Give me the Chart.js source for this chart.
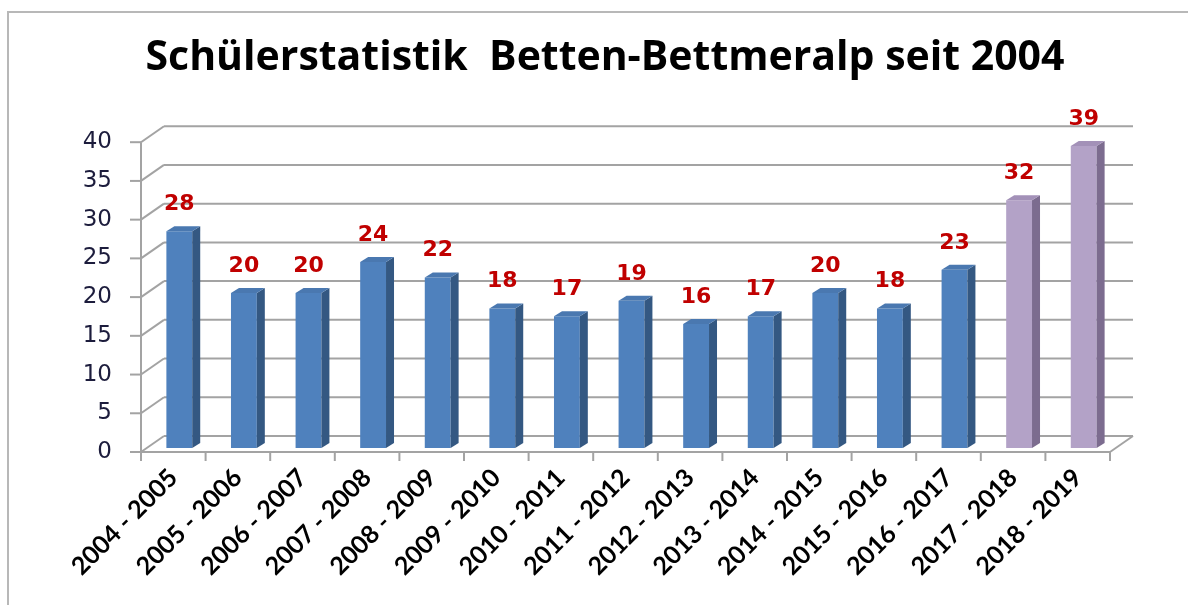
<!DOCTYPE html>
<html>
<head>
<meta charset="utf-8">
<script src="https://cdn.jsdelivr.net/npm/chart.js@4.4.1/dist/chart.umd.min.js"></script>
<style>
  html, body { margin: 0; padding: 0; background: #fff; }
  canvas { display: block; }
</style>
</head>
<body>
<canvas id="pupilChart" width="1188" height="605"></canvas>
<script>
const title = 'Schülerstatistik  Betten-Bettmeralp seit 2004';
const schoolYears = ['2004 - 2005', '2005 - 2006', '2006 - 2007', '2007 - 2008', '2008 - 2009',
    '2009 - 2010', '2010 - 2011', '2011 - 2012', '2012 - 2013', '2013 - 2014',
    '2014 - 2015', '2015 - 2016', '2016 - 2017', '2017 - 2018', '2018 - 2019'];
const pupils = [28, 20, 20, 24, 22, 18, 17, 19, 16, 17, 20, 18, 23, 32, 39];
// last two years are drawn in the lighter purple
const forecast = [false, false, false, false, false, false, false, false, false, false,
    false, false, false, true, true];
const yMin = 0;
const yMax = 40;
const yStep = 5;

// colours: front, top, side
const blue = ['#4f81bd', '#4a78b0', '#345882'];
const purple = ['#b3a2c7', '#a391b8', '#7c6c8f'];

const WALL_DX = 23, WALL_DY = -16;   // back wall offset
const BAR_DX = 6, BAR_DY = -4;       // bars sit a bit behind the front plane
const DEPTH_DX = 8, DEPTH_DY = -5;   // bar depth
const GRID = '#a3a3a3';

function line(ctx, x1, y1, x2, y2) {
    ctx.beginPath();
    ctx.moveTo(x1, y1);
    ctx.lineTo(x2, y2);
    ctx.stroke();
}

const scene3d = {
    id: 'scene3d',
    beforeDraw(chart) {
        const ctx = chart.ctx;
        ctx.save();
        ctx.strokeStyle = '#b8b8b8';
        ctx.lineWidth = 2;
        ctx.strokeRect(8, 12, chart.width + 20, chart.height + 20);
        ctx.restore();
    },
    beforeDatasetsDraw(chart) {
        const { ctx, chartArea: a, scales: { x, y } } = chart;
        ctx.save();
        ctx.strokeStyle = GRID;
        ctx.lineWidth = 2;
        // back wall gridlines + left wall diagonals + y tick marks
        y.ticks.forEach(t => {
            const py = y.getPixelForValue(t.value);
            line(ctx, a.left + WALL_DX, py + WALL_DY, a.right + WALL_DX, py + WALL_DY);
            line(ctx, a.left, py, a.left + WALL_DX, py + WALL_DY);
            line(ctx, a.left - 11, py, a.left, py);
        });
        // front axis line
        line(ctx, a.left, a.top, a.left, a.bottom);
        // floor front edge and right edge
        line(ctx, a.left, a.bottom, a.right, a.bottom);
        line(ctx, a.right, a.bottom, a.right + WALL_DX, a.bottom + WALL_DY);
        // category tick marks
        const n = schoolYears.length;
        for (let i = 0; i <= n; i++) {
            const px = a.left + i * (a.right - a.left) / n;
            line(ctx, px, a.bottom, px, a.bottom + 9);
        }
        ctx.restore();

        ctx.save();
        ctx.translate(BAR_DX, BAR_DY);
    },
    afterDatasetsDraw(chart) {
        const ctx = chart.ctx;
        const meta = chart.getDatasetMeta(0);
        meta.data.forEach((bar, i) => {
            const { x, y: top, base, width } = bar.getProps(['x', 'y', 'base', 'width'], true);
            const c = forecast[i] ? purple : blue;
            const l = x - width / 2, r = x + width / 2;
            // side face
            ctx.fillStyle = c[2];
            ctx.beginPath();
            ctx.moveTo(r, top);
            ctx.lineTo(r + DEPTH_DX, top + DEPTH_DY);
            ctx.lineTo(r + DEPTH_DX, base + DEPTH_DY);
            ctx.lineTo(r, base);
            ctx.closePath();
            ctx.fill();
            // top face
            ctx.fillStyle = c[1];
            ctx.beginPath();
            ctx.moveTo(l, top);
            ctx.lineTo(l + DEPTH_DX, top + DEPTH_DY);
            ctx.lineTo(r + DEPTH_DX, top + DEPTH_DY);
            ctx.lineTo(r, top);
            ctx.closePath();
            ctx.fill();
            // value label
            ctx.fillStyle = '#c00000';
            ctx.font = 'bold 22px "DejaVu Sans"';
            ctx.textAlign = 'center';
            ctx.textBaseline = 'middle';
            ctx.fillText(String(pupils[i]), x, top - 27);
        });
        ctx.restore();
    }
};

const ctx = document.getElementById('pupilChart').getContext('2d');
window.pupilChartInstance = new Chart(ctx, {
    type: 'bar',
    data: {
        labels: schoolYears,
        datasets: [
            {
                label: 'Schüler',
                data: pupils,
                backgroundColor: forecast.map(f => f ? purple[0] : blue[0]),
                borderWidth: 0,
                barPercentage: 0.4,
                categoryPercentage: 1.0,
                clip: false
            }
        ]
    },
    options: {
        responsive: false,
        animation: false,
        layout: {
            padding: { left: 22, right: 0, top: 0, bottom: 0 }
        },
        plugins: {
            legend: { display: false },
            tooltip: { enabled: false },
            title: {
                display: true,
                text: title,
                color: '#000',
                font: { family: 'Open Sans', size: 41, weight: 'bold' },
                padding: { top: 34, bottom: 59 }
            }
        },
        scales: {
            x: {
                grid: { display: false },
                border: { display: false },
                ticks: {
                    color: '#000',
                    font: { family: 'Lato', size: 25, weight: 'bold' },
                    minRotation: 45,
                    maxRotation: 45,
                    autoSkip: false,
                    padding: 3
                },
                afterFit: s => { s.height = 153; }
            },
            y: {
                min: yMin,
                max: yMax,
                grid: { display: false, drawTicks: false },
                border: { display: false },
                ticks: {
                    stepSize: yStep,
                    color: '#1c1c3c',
                    font: { family: 'DejaVu Sans', size: 23 },
                    padding: 29
                },
                afterFit: s => { s.width = 119; }
            },
            yRight: {
                position: 'right',
                display: true,
                grid: { display: false },
                border: { display: false },
                ticks: { display: false },
                afterFit: s => { s.width = 78; }
            }
        }
    },
    plugins: [scene3d]
});
</script>
</body>
</html>
